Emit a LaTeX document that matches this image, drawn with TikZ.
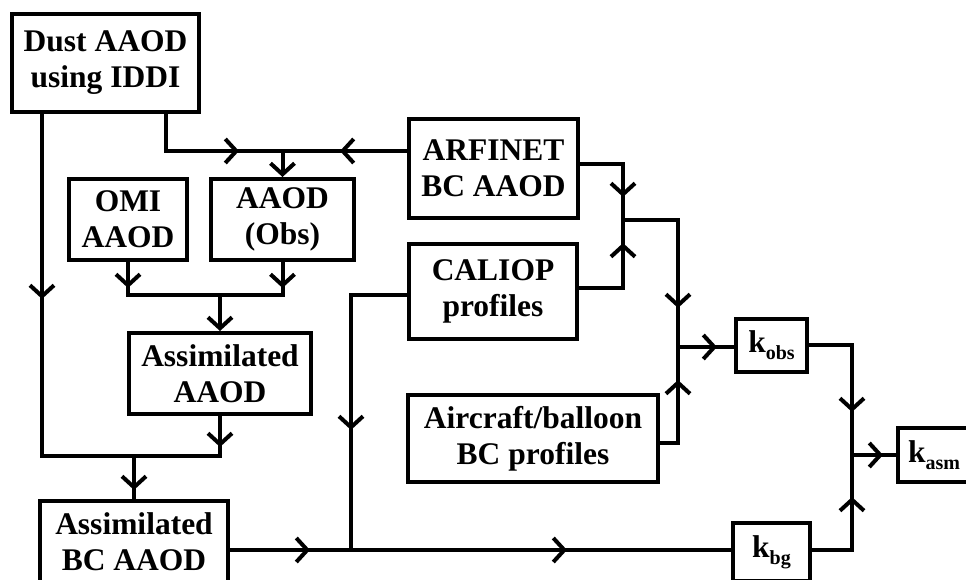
\documentclass[tikz,border=0pt]{standalone}
\usepackage{fontspec}
\setmainfont{Liberation Serif}
\usetikzlibrary{arrows.meta,decorations.markings}
\newcommand\ksub[1]{k\raisebox{-7pt}{\fontsize{20}{20}\selectfont #1}}
\begin{document}
\begin{tikzpicture}[x=1pt,y=-1pt,
  box/.style={draw,line width=4pt,inner sep=0pt,align=center,font=\fontsize{31.5}{36}\selectfont\bfseries},
  wire/.style={line width=4pt},
  barb/.tip={Straight Barb[length=11pt,width=24pt]},
  chev/.style={postaction={decorate},decoration={markings,mark=at position #1 with {\arrow{barb}}}},
  endarrow/.style={-barb}
]
\useasboundingbox (0,0) rectangle (966,579);
\fill[white] (0,0) rectangle (966,579);
\clip (0,0) rectangle (966,579);

% boxes
\node[box,minimum width=187pt,minimum height=98pt] (dust) at (105.5,63) {Dust AAOD\\using IDDI};
\node[box,minimum width=169pt,minimum height=99pt] (arf) at (493.5,168.5) {ARFINET\\BC AAOD};
\node[box,minimum width=118pt,minimum height=81pt] (omi) at (128,219.5) {OMI\\AAOD};
\node[box,minimum width=143pt,minimum height=81pt] (obs) at (282.5,219.5) {AAOD\\(Obs)};
\node[box,minimum width=168pt,minimum height=95pt] (cal) at (493,291.5) {CALIOP\\profiles};
\node[box,minimum width=182pt,minimum height=81pt] (asm) at (220,373.5) {Assimilated\\AAOD};
\node[box,minimum width=188pt,minimum height=82pt] (bcaod) at (134,542) {Assimilated\\BC AAOD};
\node[box,minimum width=250pt,minimum height=87pt] (air) at (533,438.5) {Aircraft/balloon\\BC profiles};
\node[box,minimum width=71pt,minimum height=53pt] (kobs) at (771.5,345.5) {\ksub{obs}};
\node[box,minimum width=77pt,minimum height=58pt] (kbg) at (771.5,552) {\ksub{bg}};
\node[box,minimum width=72pt,minimum height=54pt] (kasm) at (934,455) {\ksub{asm}};

% junctions
\coordinate (jL) at (42,456);
\coordinate (j1) at (134,456);
\coordinate (dR) at (166,151);
\coordinate (j2) at (282.5,151);
\coordinate (j3) at (220,295);
\coordinate (cw) at (351,295);
\coordinate (jc) at (351,550);
\coordinate (j4) at (623,220);
\coordinate (j5) at (678,347);
\coordinate (j6) at (852,455);

% connectors
\draw[wire,chev=185pt] (dust.south -| jL) |- (j1);
\draw[wire,chev=31pt] (asm.south) |- (j1);
\draw[wire,chev=34pt] (j1) -- (bcaod.north);
\draw[wire,chev=110pt] (dust.south -| dR) |- (j2);
\draw[wire,chev=67pt] (arf.west |- j2) -- (j2);
\draw[wire,endarrow] (j2) -- (obs.north);
\draw[wire,chev=26pt] (omi.south) |- (j3);
\draw[wire,chev=26pt] (obs.south) |- (j3);
\draw[wire,endarrow] (j3) -- (asm.north);
\draw[wire,chev=191pt] (cal.west |- cw) -| (jc);
\draw[wire,postaction={decorate},decoration={markings,
   mark=at position 80pt with {\arrow{barb}},
   mark=at position 337pt with {\arrow{barb}}}]
   (bcaod.east |- jc) -- (kbg.west |- jc);
\draw[wire,chev=76pt] (arf.east |- 0,164) -| (j4);
\draw[wire,chev=89pt] (cal.east |- 0,288) -| (j4);
\draw[wire,chev=143pt] (j4) -| (j5);
\draw[wire,chev=81pt] (air.east |- 0,443) -| (j5);
\draw[wire,chev=39pt] (j5) -- (kobs.west |- j5);
\draw[wire,chev=110pt] (kobs.east |- 0,345) -| (j6);
\draw[wire,chev=93pt] (kbg.east |- jc) -| (j6);
\draw[wire,chev=31pt] (j6) -- (kasm.west);
\end{tikzpicture}
\end{document}
